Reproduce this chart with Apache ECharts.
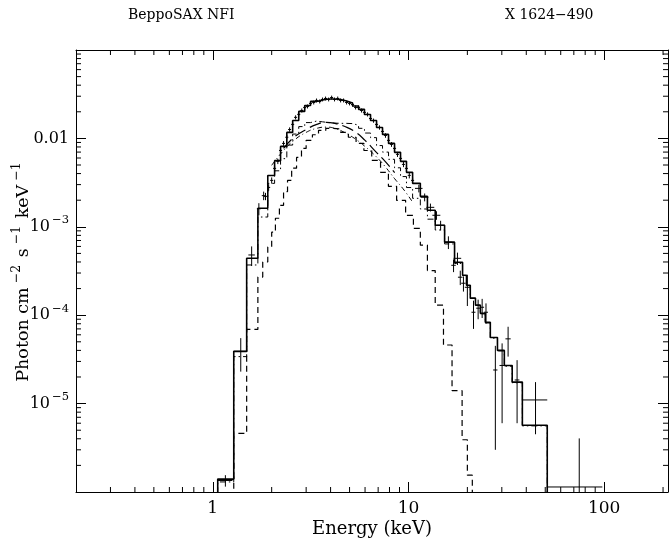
<!DOCTYPE html>
<html>
<head>
<meta charset="utf-8">
<script src="https://cdn.jsdelivr.net/npm/echarts@6/dist/echarts.min.js"></script>
<style>
  html, body { margin: 0; padding: 0; background: #fff; }
  #main { width: 670px; height: 546px; }
</style>
</head>
<body>
<div id="main"></div>
<script>
// observed spectrum: energy (keV), flux, half bin width, 1 sigma error
const dataE = [1.16, 1.39, 1.58, 1.72, 1.82,
  1.86, 1.93, 2.00, 2.07, 2.15, 2.22, 2.30, 2.39, 2.47, 2.56, 2.65, 2.75, 2.85, 2.95, 3.05, 3.16, 3.28, 3.39, 3.52, 3.64,
  3.77, 3.91, 4.05, 4.19, 4.35, 4.50, 4.66, 4.83, 5.00, 5.18, 5.37, 5.56, 5.76, 5.96, 6.18, 6.40, 6.63, 6.87, 7.11, 7.37,
  7.63, 7.91, 8.19, 8.49, 8.79, 9.11, 9.43, 9.77, 10.1, 10.5,
  11.3, 12.1, 12.95, 13.9, 14.6, 16.0, 17.0, 17.8, 18.4, 19.1, 20.0, 21.5, 22.7, 23.8, 24.9, 27.8, 30.1, 32.3, 35.9, 44.6, 74.6];
const dataF = [1.35e-6, 3.9e-5, 4.8e-4, 1.6e-3, 2.25e-3,
  0.00221, 0.00279, 0.00335, 0.00458, 0.00550, 0.00731, 0.00878, 0.0103, 0.0126, 0.0144, 0.0173, 0.0187, 0.0207, 0.0224, 0.0230, 0.0249, 0.0255, 0.0269, 0.0262, 0.0276,
  0.0283, 0.0276, 0.0290, 0.0276, 0.0283, 0.0269, 0.0269, 0.0255, 0.0249, 0.0242, 0.0224, 0.0224, 0.0207, 0.0197, 0.0187, 0.0168, 0.0159, 0.0144, 0.0133, 0.0120,
  0.0108, 0.0095, 0.00856, 0.00771, 0.0066, 0.00594, 0.00508, 0.00458, 0.00382, 0.00335,
  2.72e-3, 2.16e-3, 1.66e-3, 1.35e-3, 1.04e-3, 6.7e-4, 3.67e-4, 4.4e-4, 2.69e-4, 2.3e-4, 2.07e-4, 1.08e-4, 1.2e-4, 1.23e-4, 1.08e-4, 2.4e-5, 2.7e-5, 5.4e-5, 1.85e-5, 1.1e-5, 1.14e-6];
const dataEerr = [0.10, 0.11, 0.06, 0.04, 0.04,
  0.034, 0.035, 0.036, 0.037, 0.039, 0.040, 0.041, 0.043, 0.044, 0.046, 0.048, 0.049, 0.051, 0.053, 0.055, 0.057, 0.059, 0.061, 0.063, 0.066,
  0.068, 0.070, 0.073, 0.075, 0.078, 0.081, 0.084, 0.087, 0.090, 0.093, 0.097, 0.100, 0.104, 0.107, 0.111, 0.115, 0.119, 0.124, 0.128, 0.133,
  0.137, 0.142, 0.147, 0.153, 0.158, 0.164, 0.170, 0.176, 0.182, 0.189,
  0.5, 0.55, 0.6, 0.65, 0.7, 0.75, 0.45, 0.8, 0.5, 0.5, 0.6, 0.5, 0.5, 0.55, 0.6, 0.7, 0.9, 1.0, 1.0, 6.6, 23.3];
const dataFerr = [2e-7, 1.6e-5, 1.2e-4, 2.5e-4, 2.5e-4,
  0.00021, 0.00024, 0.00027, 0.00034, 0.00038, 0.00048, 0.00054, 0.00061, 0.00072, 0.00080, 0.00093, 0.00099, 0.00109, 0.00115, 0.00118, 0.00126, 0.00130, 0.00136, 0.00133, 0.00139,
  0.00142, 0.00139, 0.00147, 0.00141, 0.00144, 0.00138, 0.00138, 0.00131, 0.00128, 0.00125, 0.00117, 0.00117, 0.00109, 0.00104, 0.00099, 0.00091, 0.00086, 0.00080, 0.00075, 0.00069,
  0.00064, 0.00058, 0.00053, 0.00050, 0.00043, 0.00040, 0.00035, 0.00032, 0.00029, 0.00026,
  2.7e-4, 2.2e-4, 1.7e-4, 1.5e-4, 1.3e-4, 1.1e-4, 6e-5, 7e-5, 5e-5, 4.5e-5, 8e-5, 3.8e-5, 3e-5, 3e-5, 2.8e-5, 2.1e-5, 2.1e-5, 2.0e-5, 1.25e-5, 6.5e-6, 2.9e-6];

// folded model histograms (bin edges in keV, one value per bin)
const modelEdges = [1.06, 1.28, 1.49, 1.70, 1.91, 2.07, 2.22, 2.39, 2.56, 2.75, 2.95, 3.16, 3.39, 3.64, 3.91, 4.19,
  4.50, 4.83, 5.18, 5.56, 5.96, 6.40, 6.87, 7.37, 7.91, 8.49, 9.11, 9.77, 10.5, 11.5, 12.5, 13.7, 15.3, 17.2, 18.9,
  19.8, 20.7, 22.0, 23.3, 24.7, 26.2, 28.5, 30.9, 33.9, 38.2, 51.2];
const modelTotal = [1.4e-6, 3.9e-5, 4.4e-4, 1.62e-3, 3.8e-3, 5.6e-3, 8.12e-3, 1.169e-2, 1.596e-2, 2.02e-2, 2.36e-2,
  2.62e-2, 2.72e-2, 2.79e-2, 2.79e-2, 2.76e-2, 2.65e-2, 2.52e-2, 2.33e-2, 2.13e-2, 1.866e-2, 1.596e-2, 1.33e-2, 1.11e-2,
  8.78e-3, 6.95e-3, 5.5e-3, 4.13e-3, 3.10e-3, 2.21e-3, 1.54e-3, 1.04e-3, 6.7e-4, 3.97e-4, 2.83e-4, 2.18e-4, 1.56e-4,
  1.30e-4, 1.05e-4, 8.3e-5, 5.6e-5, 4.0e-5, 2.7e-5, 1.75e-5, 5.7e-6];
const modelComp = [1.3e-6, 3.4e-5, 3.7e-4, 1.29e-3, 3.1e-3, 4.3e-3, 5.9e-3, 8.4e-3, 1.12e-2, 1.36e-2, 1.51e-2,
  1.57e-2, 1.54e-2, 1.51e-2, 1.49e-2, 1.48e-2, 1.48e-2, 1.47e-2, 1.41e-2, 1.30e-2, 1.15e-2, 1.02e-2, 8.3e-3, 7.0e-3,
  5.8e-3, 4.65e-3, 3.7e-3, 2.78e-3, 2.1e-3, 1.59e-3, 1.22e-3, 9.2e-4, 6.4e-4, 3.85e-4, 2.8e-4, 2.16e-4, 1.55e-4,
  1.29e-4, 1.04e-4, 8.2e-5, 5.5e-5, 3.95e-5, 2.65e-5, 1.72e-5, 5.6e-6];
const bbodyEdges = [1.28, 1.49, 1.70, 1.80, 1.91, 2.00, 2.09, 2.19, 2.30, 2.41, 2.53, 2.68, 2.84, 3.00, 3.23, 3.47,
  3.78, 4.10, 4.50, 4.93, 5.40, 5.92, 6.49, 7.20, 7.90, 8.70, 9.67, 10.6, 11.5, 12.5, 13.7, 15.1, 16.7, 18.8, 20.0, 21.2];
const bbodyModel = [4.6e-6, 6.9e-5, 2.7e-4, 4.0e-4, 5.9e-4, 8.7e-4, 1.25e-3, 1.75e-3, 2.5e-3, 3.35e-3, 4.6e-3,
  6.1e-3, 7.7e-3, 9.5e-3, 1.1e-2, 1.23e-2, 1.3e-2, 1.28e-2, 1.17e-2, 1.03e-2, 8.8e-3, 7.3e-3, 5.64e-3, 4.13e-3,
  2.87e-3, 1.99e-3, 1.35e-3, 9.6e-4, 6.2e-4, 3.2e-4, 1.3e-4, 4.6e-5, 1.4e-5, 3.9e-6, 1.55e-6];

// unfolded components (smooth curves)
const curveAE = [2.3, 2.6, 3.0, 3.4, 3.8, 4.2, 4.7, 5.3, 6.0, 6.8, 7.6, 8.5];
const curveAF = [7.7e-3, 1.03e-2, 1.26e-2, 1.44e-2, 1.52e-2, 1.48e-2, 1.37e-2, 1.20e-2, 9.5e-3, 7.1e-3, 5.5e-3, 4.1e-3];
const curveBE = [2.0, 2.3, 2.6, 3.0, 3.4, 3.8, 4.2, 4.7, 5.3, 6.0, 6.8, 7.6, 8.5, 9.5, 10.5];
const curveBF = [4.96e-3, 7.3e-3, 9.5e-3, 1.17e-2, 1.3e-2, 1.34e-2, 1.3e-2, 1.17e-2, 1.0e-2, 8.1e-3, 6.3e-3, 4.8e-3, 3.5e-3, 2.6e-3, 1.9e-3];

const xLabels = [1, 10, 100];
const yLabels = [1e-2, 1e-3, 1e-4, 1e-5];

const X_MIN = 0.2, X_MAX = 212, Y_MIN = 1e-6, Y_MAX = 0.1;
const FONT = "DejaVu Serif";

function histo(edges, vals) {
  const pts = [[edges[0], Y_MIN * 0.01]];
  vals.forEach((v, i) => pts.push([edges[i], v]));
  pts.push([edges[edges.length - 1], vals[vals.length - 1]]);
  pts.push([edges[edges.length - 1], Y_MIN * 0.01]);
  return pts;
}

const crosses = dataE.map((e, i) => [e, dataF[i], dataEerr[i], dataFerr[i]]);

// minor tick values 2..9 x decade
const xMinor = [], yMinor = [];
for (let p = -1; p <= 2; p++) for (let k = 2; k <= 9; k++) {
  const v = k * Math.pow(10, p);
  if (v > X_MIN && v < X_MAX) xMinor.push([v, Y_MIN]);
}
for (let p = -6; p <= -2; p++) for (let k = 2; k <= 9; k++) {
  const v = k * Math.pow(10, p);
  if (v > Y_MIN && v < Y_MAX) yMinor.push([X_MIN, v]);
}

const isLabel = (v, list) => list.some(t => Math.abs(Math.log10(v) - Math.log10(t)) < 1e-6);

const myChart = echarts.init(document.getElementById("main"));
const black = "#000";
const option = {
  animation: false,
  backgroundColor: "#fff",
  title: [
    { text: "BeppoSAX NFI", left: 128, top: 8, padding: 0,
      textStyle: { fontFamily: FONT, fontSize: 14, fontWeight: "normal", color: black } },
    { text: "X 1624\u2212490", left: 505, top: 8, padding: 0,
      textStyle: { fontFamily: FONT, fontSize: 14, fontWeight: "normal", color: black } },
  ],
  grid: { left: 76, right: 2, top: 50, bottom: 54, outerBoundsMode: "none", containLabel: false },
  xAxis: [
    {
      type: "log", min: X_MIN, max: X_MAX, position: "bottom",
      name: "Energy (keV)", nameLocation: "middle", nameGap: 28, nameMoveOverlap: false,
      nameTextStyle: { fontFamily: FONT, fontSize: 18, color: black },
      axisLine: { lineStyle: { color: black, width: 1 } },
      axisTick: { inside: true, length: 10, lineStyle: { color: black } },
      splitLine: { show: false },
      axisLabel: {
        margin: 8, fontFamily: FONT, fontSize: 17, color: black,
        showMinLabel: false, showMaxLabel: false,
        formatter: v => (isLabel(v, xLabels) ? String(Math.round(v)) : ""),
      },
    },
    {
      type: "log", min: X_MIN, max: X_MAX, position: "top",
      axisLine: { lineStyle: { color: black, width: 1 } },
      axisTick: { inside: true, length: 10, lineStyle: { color: black } },
      axisLabel: { show: false },
      splitLine: { show: false },
    },
  ],
  yAxis: [
    {
      type: "log", min: Y_MIN, max: Y_MAX, position: "left",
      name: "{a|Photon cm}{s|\u22122}{a| s}{s|\u22121}{a| keV}{s|\u22121}",
      nameLocation: "middle", nameGap: 39, nameRotate: 90, nameMoveOverlap: false,
      nameTextStyle: {
        color: black,
        rich: {
          a: { fontFamily: FONT, fontSize: 17.5, color: black },
          s: { fontFamily: FONT, fontSize: 12.5, color: black, padding: [0, 2, 14, 4] },
        },
      },
      axisLine: { lineStyle: { color: black, width: 1 } },
      axisTick: { inside: true, length: 10, lineStyle: { color: black } },
      splitLine: { show: false },
      axisLabel: {
        margin: 7, color: black,
        showMinLabel: false, showMaxLabel: false,
        formatter: v => {
          if (!isLabel(v, yLabels)) return "";
          const p = Math.round(Math.log10(v));
          if (p === -2) return "{b|0.01}";
          return "{b|10}{s|\u2212" + (-p) + "}";
        },
        rich: {
          b: { fontFamily: FONT, fontSize: 16, color: black },
          s: { fontFamily: FONT, fontSize: 11.5, color: black, padding: [0, 0, 13, 2] },
        },
      },
    },
    {
      type: "log", min: Y_MIN, max: Y_MAX, position: "right",
      axisLine: { lineStyle: { color: black, width: 1 } },
      axisTick: { inside: true, length: 10, lineStyle: { color: black } },
      axisLabel: { show: false },
      splitLine: { show: false },
    },
  ],
  series: [
    {
      name: "minor x", type: "custom", xAxisIndex: 0, yAxisIndex: 0, silent: true,
      data: xMinor, encode: { x: 0, y: 1 },
      renderItem: (params, api) => {
        const v = api.value(0);
        const b = api.coord([v, Y_MIN]);
        const t = api.coord([v, Y_MAX]);
        const st = { stroke: black, lineWidth: 1 };
        return { type: "group", children: [
          { type: "line", shape: { x1: b[0], y1: b[1], x2: b[0], y2: b[1] - 5 }, style: st },
          { type: "line", shape: { x1: t[0], y1: t[1], x2: t[0], y2: t[1] + 5 }, style: st },
        ] };
      },
    },
    {
      name: "minor y", type: "custom", xAxisIndex: 0, yAxisIndex: 0, silent: true,
      data: yMinor, encode: { x: 0, y: 1 },
      renderItem: (params, api) => {
        const v = api.value(1);
        const l = api.coord([X_MIN, v]);
        const r = api.coord([X_MAX, v]);
        const st = { stroke: black, lineWidth: 1 };
        return { type: "group", children: [
          { type: "line", shape: { x1: l[0], y1: l[1], x2: l[0] + 5, y2: l[1] }, style: st },
          { type: "line", shape: { x1: r[0], y1: r[1], x2: r[0] - 5, y2: r[1] }, style: st },
        ] };
      },
    },
    {
      name: "bbody", type: "line", step: "end", showSymbol: false, clip: true,
      data: histo(bbodyEdges, bbodyModel),
      lineStyle: { color: black, width: 1.2, type: [6, 4] },
    },
    {
      name: "comp", type: "line", step: "end", showSymbol: false, clip: true,
      data: histo(modelEdges, modelComp),
      lineStyle: { color: black, width: 1, type: [6, 3, 1.5, 3] },
    },
    {
      name: "curve A", type: "line", smooth: true, showSymbol: false, clip: true,
      data: curveAE.map((e, i) => [e, curveAF[i]]),
      lineStyle: { color: black, width: 1.2, type: [12, 5] },
    },
    {
      name: "curve B", type: "line", smooth: true, showSymbol: false, clip: true,
      data: curveBE.map((e, i) => [e, curveBF[i]]),
      lineStyle: { color: black, width: 1, type: [5, 3, 1, 3] },
    },
    {
      name: "total", type: "line", step: "end", showSymbol: false, clip: true,
      data: histo(modelEdges, modelTotal),
      lineStyle: { color: black, width: 1.6 },
    },
    {
      name: "data", type: "custom", xAxisIndex: 0, yAxisIndex: 0,
      data: crosses, encode: { x: 0, y: 1 },
      renderItem: (params, api) => {
        const e = api.value(0), f = api.value(1), de = api.value(2), df = api.value(3);
        const lo = Math.max(f - df, Y_MIN);
        const a = api.coord([e - de, f]), b = api.coord([e + de, f]);
        const c = api.coord([e, lo]), d = api.coord([e, f + df]);
        const st = { stroke: black, lineWidth: 1 };
        return { type: "group", children: [
          { type: "line", shape: { x1: a[0], y1: a[1], x2: b[0], y2: b[1] }, style: st },
          { type: "line", shape: { x1: c[0], y1: c[1], x2: d[0], y2: d[1] }, style: st },
        ] };
      },
    },
  ],
};
myChart.setOption(option);
</script>
</body>
</html>
